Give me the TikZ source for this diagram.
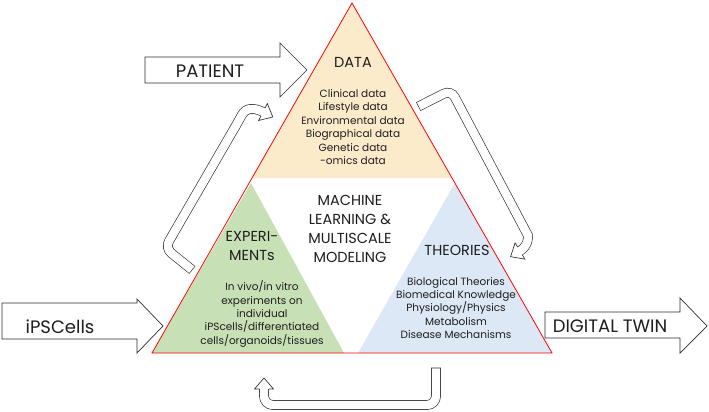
\documentclass[tikz,border=0pt]{standalone}
\usepackage{fontspec}
\setmainfont{Poppins}

\definecolor{datafill}{RGB}{251,235,202}
\definecolor{expfill}{RGB}{199,224,181}
\definecolor{theofill}{RGB}{220,232,245}
\definecolor{arrline}{RGB}{45,45,45}
\definecolor{txt}{RGB}{30,30,30}

\tikzset{
  heading/.style={font=\fontsize{14.5}{18.5}\selectfont, align=center, inner sep=0pt, text=txt},
  itemlist/.style={font=\fontsize{10.5}{13.4}\selectfont, align=center, inner sep=0pt, text=txt},
  bigword/.style={font=\fontsize{18}{20}\selectfont, inner sep=0pt, text=txt},
  blockarrow/.style={draw=arrline, line width=0.7pt, fill=white, line join=miter},
  loopshaft/.style={draw=arrline, line width=0.65pt, double=white, double distance=8.4pt, line cap=rect, rounded corners=8pt},
  headline/.style={draw=arrline, line width=0.65pt, line join=miter},
}

% open arrow head: base point, direction
\newcommand{\openhead}[2]{%
  \begin{scope}[shift={(#1)}, rotate=#2]
    \fill[white] (0,9.5) -- (11,0) -- (0,-9.5) -- cycle;
    \draw[headline] (0,4.5) -- (0,9.5) -- (11,0) -- (0,-9.5) -- (0,-4.5);
  \end{scope}}

\begin{document}
\begin{tikzpicture}[x=1pt,y=-1pt]
  \useasboundingbox (0,0) rectangle (709,412);

  % pyramid
  \coordinate (top) at (352,3);
  \coordinate (bl)  at (152,353);
  \coordinate (br)  at (552,353);
  \fill[datafill]  (top) -- (252,178) -- (452,178) -- cycle;
  \fill[expfill]   (251,183) -- (bl) -- (344,353) -- cycle;
  \fill[theofill]  (455,183) -- (358,353) -- (br) -- cycle;
  \draw[red, line width=0.8pt, line join=miter] (top) -- (bl) -- (br) -- cycle;

  % straight block arrows
  \draw[blockarrow] (145,57) -- (280,57) -- (280,43) -- (307,70) -- (280,97) -- (280,83) -- (145,83) -- cycle;
  \draw[blockarrow] (2,303) -- (137,303) -- (137,299) -- (163,326) -- (137,353) -- (137,339) -- (2,339) -- cycle;
  \draw[blockarrow] (545,312) -- (680,312) -- (680,298) -- (707,326) -- (680,353) -- (680,338) -- (545,338) -- cycle;

  % loop arrows
  \coordinate (ltail) at (188.5,267);
  \coordinate (lbend) at (165,248);
  \coordinate (lup)   at (238,122);
  \coordinate (lbase) at (263,112);
  \draw[loopshaft] (ltail) -- (lbend) -- (lup) .. controls (246,107.5) and (254,107.4) .. (lbase);
  \openhead{lbase}{-27}

  \coordinate (rtail) at (422.6,104.4);
  \coordinate (rbend) at (451,90);
  \coordinate (rdown) at (524,228);
  \coordinate (rbase) at (520,251);
  \draw[loopshaft] (rtail) -- (rbend) -- (rdown) .. controls (528.7,236.8) and (528,246) .. (rbase);
  \openhead{rbase}{211}

  \coordinate (btail)  at (436,372.5);
  \coordinate (bright) at (436,405);
  \coordinate (bleft)  at (264,405);
  \coordinate (bbase)  at (264,389);
  \draw[loopshaft, rounded corners=9pt] (btail) -- (bright) -- (bleft) -- (bbase);
  \openhead{bbase}{90}

  % texts
  \node[heading] (data) at (353,62) {DATA};
  \node[itemlist] (datalist) at (353,127) {Clinical data\\Lifestyle data\\Environmental data\\Biographical data\\Genetic data\\-omics data};
  \node[heading, font=\fontsize{14.5}{19}\selectfont] (ml) at (350,229) {MACHINE\\LEARNING \&\\MULTISCALE\\MODELING};
  \node[heading] (exp) at (252,246) {EXPERI-\\MENTs};
  \node[itemlist] (explist) at (262,314) {In vivo/in vitro\\experiments on\\individual\\iPScells/differentiated\\cells/organoids/tissues};
  \node[heading] (theo) at (457,250) {THEORIES};
  \node[itemlist] (theolist) at (456,308) {Biological Theories\\Biomedical Knowledge\\Physiology/Physics\\Metabolism\\Disease Mechanisms};
  \node[bigword] (patient) at (210,71) {PATIENT};
  \node[bigword] (ips) at (60,327) {iPSCells};
  \node[bigword] (twin) at (610,326) {DIGITAL TWIN};
\end{tikzpicture}
\end{document}
